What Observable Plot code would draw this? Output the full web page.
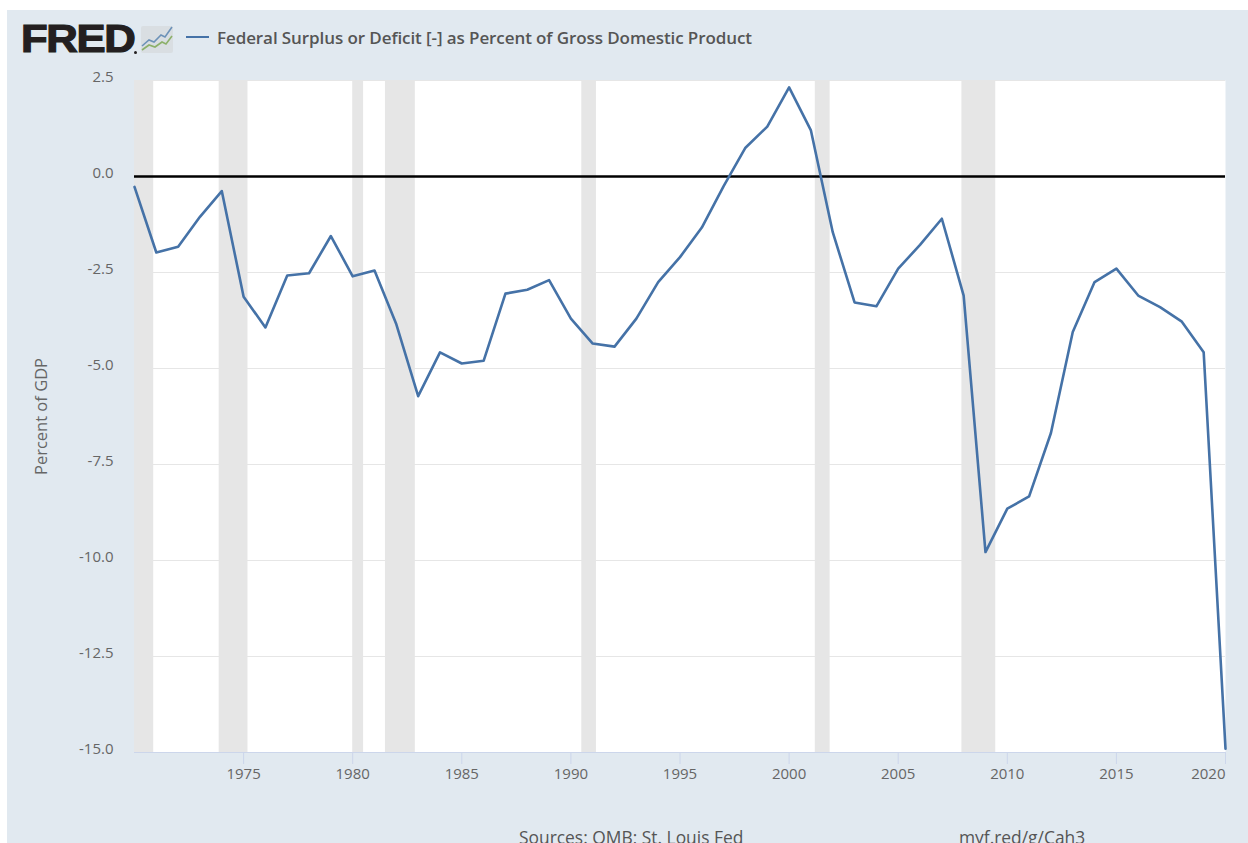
<!DOCTYPE html>
<html>
<head>
<meta charset="utf-8">
<script src="https://cdn.jsdelivr.net/npm/d3@7"></script>
<script src="https://cdn.jsdelivr.net/npm/@observablehq/plot@0.6"></script>
<style>
html,body{margin:0;padding:0;background:#fff;width:1248px;height:843px;overflow:hidden;font-family:"Open Sans",sans-serif}
#card{position:absolute;left:7px;top:10px;width:1241px;height:833px;background:#e1e9f0;overflow:hidden}
#head{position:relative;height:56px}
#logo{position:absolute;left:14px;top:7px;font:900 39px/44px "Liberation Sans",sans-serif;letter-spacing:-1.2px;color:#231f20;-webkit-text-stroke:1.2px #231f20;transform:scaleX(1.12);transform-origin:left center;white-space:nowrap}
#reg{position:absolute;left:127px;top:41px;width:3px;height:3px;border-radius:50%;background:#231f20}
#icon{position:absolute;left:134px;top:16px;width:32px;height:27px;display:block}
#swatch{position:absolute;left:179px;top:26px;width:23px;height:2px;background:#4572a7}
#legend{position:absolute;left:210px;top:16px;font:600 17px/24px "Open Sans",sans-serif;color:#555;letter-spacing:-.09px;white-space:nowrap}
#plot svg{display:block}
#foot{position:relative;height:47px;font-size:17.4px;color:#555}
#foot span{position:absolute;top:29px;white-space:nowrap}
</style>
</head>
<body>
<div id="card">
  <div id="head">
    <div id="logo">FRED</div>
    <div id="reg"></div>
    <svg id="icon" viewBox="0 0 32 27"><rect x="0" y="0" width="32" height="27" rx="2" fill="#d9dee2"/><polyline points="1,20 8,14 13,16 20,9 24,11 31,1" fill="none" stroke="#6d92b8" stroke-width="1.6"/><polyline points="1,24 8,19 14,21 21,16 25,18 31,10" fill="none" stroke="#8cb06a" stroke-width="1.6"/></svg>
    <div id="swatch"></div>
    <div id="legend">Federal Surplus or Deficit [-] as Percent of Gross Domestic Product</div>
  </div>
  <div id="plot"></div>
  <div id="foot"><span style="left:512px">Sources: OMB; St. Louis Fed</span><span style="left:952px">myf.red/g/Cah3</span></div>
</div>
<script>
const years = d3.range(1970, 2021);
const deficit = [-0.27,-1.98,-1.83,-1.05,-0.38,-3.13,-3.93,-2.58,-2.52,-1.55,-2.6,-2.45,-3.85,-5.72,-4.58,-4.87,-4.8,-3.05,-2.95,-2.7,-3.7,-4.35,-4.43,-3.7,-2.75,-2.1,-1.33,-0.25,0.75,1.3,2.32,1.2,-1.45,-3.28,-3.38,-2.4,-1.78,-1.1,-3.1,-9.78,-8.65,-8.33,-6.68,-4.05,-2.75,-2.4,-3.1,-3.4,-3.78,-4.58,-14.9];
const recessionStart = [1970,1973.88,1980,1981.5,1990.5,2001.2,2007.92];
const recessionEnd = [1970.88,1975.2,1980.5,1982.87,1991.17,2001.88,2009.47];
const yTicks = [2.5,0,-2.5,-5,-7.5,-10,-12.5,-15];
const xTicks = [1975,1980,1985,1990,1995,2000,2005,2010,2015];
const lastTick = [2020];

const series = years.map((year, i) => ({year, value: deficit[i]}));
const bands = recessionStart.map((start, i) => ({start, end: recessionEnd[i]}));
const fmtY = d => d3.format(".1f")(d).replace("\u2212", "-");
const tickFont = {fontSize: 15, fill: "#666", fontFamily: "Open Sans"};

const chart = Plot.plot({
  width: 1241,
  height: 730,
  marginLeft: 127,
  marginRight: 23,
  marginTop: 14,
  marginBottom: 44,
  style: {background: "transparent", overflow: "visible"},
  x: {domain: [1970, 2020], label: null},
  y: {domain: [-15, 2.5], label: null},
  marks: [
    Plot.frame({fill: "#fff", stroke: null}),
    Plot.gridY(yTicks, {stroke: "#e6e6e6", strokeOpacity: 1, strokeWidth: 1}),
    Plot.rectY(bands, {x1: "start", x2: "end", y1: -15, y2: 2.5, fill: "#e6e6e6"}),
    Plot.ruleY([0], {stroke: "#000", strokeWidth: 2.5}),
    Plot.line(series, {x: "year", y: "value", stroke: "#4572a7", strokeWidth: 2.6, strokeLinejoin: "round"}),
    Plot.ruleY([-15], {stroke: "#ccd6eb", strokeWidth: 1}),
    Plot.axisY({ticks: yTicks, tickSize: 0, tickPadding: 21, tickFormat: fmtY, dy: -3, label: null, ...tickFont}),
    Plot.axisX({ticks: xTicks, tickSize: 12, tickPadding: 4, tickFormat: d => String(d), stroke: "#ccd6eb", label: null, ...tickFont}),
    Plot.axisX({ticks: lastTick, tickSize: 12, tickPadding: 4, tickFormat: d => String(d), stroke: "#ccd6eb", textAnchor: "end", label: null, ...tickFont}),
    Plot.text(["Percent of GDP"], {frameAnchor: "left", textAnchor: "middle", dx: -93, dy: 0, rotate: -90, fontSize: 16.5, fill: "#666", fontFamily: "Open Sans"})
  ]
});
document.getElementById("plot").appendChild(chart);
</script>
</body>
</html>
